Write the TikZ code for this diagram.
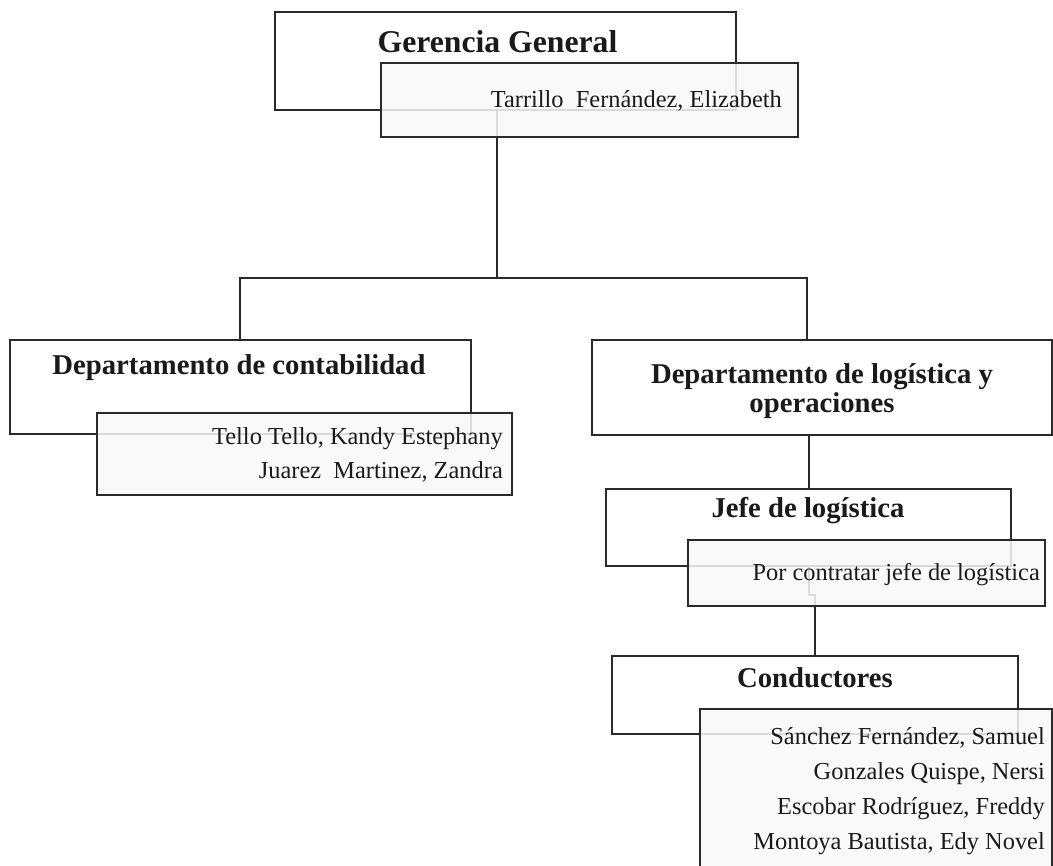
\documentclass[tikz,border=0pt]{standalone}
\usepackage{fontspec}
\setmainfont{Liberation Serif}
\definecolor{ink}{HTML}{1A1A1A}
\definecolor{edge}{HTML}{2A2A2A}
\definecolor{paper}{HTML}{F9F9F9}
\tikzset{
  unitbox/.style={rectangle, draw=edge, line width=1.8pt, fill=white, inner sep=0pt},
  namebox/.style={rectangle, draw=edge, line width=1.8pt, fill=paper, fill opacity=0.86, inner sep=0pt},
  wire/.style={draw=edge, line width=1.8pt},
  heading/.style={text=ink, inner sep=0pt, font=\bfseries\fontsize{28.7}{30}\selectfont},
  person/.style={text=ink, inner sep=0pt, anchor=base east, font=\fontsize{24.4}{28}\selectfont},
}
\begin{document}
\begin{tikzpicture}[x=1pt,y=-1pt]
\useasboundingbox (0,0) rectangle (1053,866);
\clip (0,0) rectangle (1053,866);
\fill[white] (0,0) rectangle (1053,866);

% connector points
\coordinate (ggdrop) at (497,110);
\coordinate (bus) at (497,278);
\coordinate (dropL) at (240,340);
\coordinate (dropR) at (807,340);
\coordinate (logdrop) at (809,435);
\coordinate (logjogA) at (809,595);
\coordinate (logjogB) at (815,595);
\coordinate (conddrop) at (815,656);

% connectors
\draw[wire] (ggdrop) -- (bus);
\draw[wire] (dropL) |- (bus) -| (dropR);
\draw[wire] (logdrop) -- (logjogA) -- (logjogB) -- (conddrop);

% unit boxes
\node[unitbox, minimum width=461pt, minimum height=98pt] (gg) at (505.5,61) {};
\node[unitbox, minimum width=461pt, minimum height=94pt] (con) at (240.5,387) {};
\node[unitbox, minimum width=460pt, minimum height=95pt] (dlog) at (822,387.5) {};
\node[unitbox, minimum width=405pt, minimum height=77pt] (jefe) at (808.5,527.5) {};
\node[unitbox, minimum width=406pt, minimum height=78pt] (cond) at (815,695) {};

% name boxes
\node[namebox, minimum width=417pt, minimum height=74pt] (ggsub) at (589.5,100) {};
\node[namebox, minimum width=415pt, minimum height=82pt] (consub) at (304.5,454) {};
\node[namebox, minimum width=357pt, minimum height=66pt] (jefesub) at (866.5,573) {};
\node[namebox, minimum width=352pt, minimum height=181pt] (condsub) at (876,799.5) {};

% headings
\node[heading, anchor=base, font=\bfseries\fontsize{31.7}{33}\selectfont] (ggt) at (497.5,53) {Gerencia General};
\node[heading, anchor=base] (cont) at (239,375) {Departamento\ de\ contabilidad};
\node[heading, anchor=base] (dlogt1) at (822,384) {Departamento de logística y};
\node[heading, anchor=base] (dlogt2) at (822,413) {operaciones};
\node[heading, anchor=base] (jefet) at (808,518) {Jefe de logística};
\node[heading, anchor=base] (condt) at (815,687) {Conductores};

% people
\node[person] (p1) at (782,108) {Tarrillo\ \ Fernández, Elizabeth};
\node[person] (p2) at (503,445) {Tello Tello,\ Kandy Estephany};
\node[person] (p3) at (503,479) {Juarez\ \ Martinez, Zandra};
\node[person] (p4) at (1040,580) {Por contratar jefe de logística};
\node[person] (p5) at (1045,744) {Sánchez Fernández, Samuel};
\node[person] (p6) at (1045,779) {Gonzales Quispe, Nersi};
\node[person] (p7) at (1045,814) {Escobar Rodríguez, Freddy};
\node[person] (p8) at (1045,849) {Montoya Bautista, Edy Novel};
\end{tikzpicture}
\end{document}
